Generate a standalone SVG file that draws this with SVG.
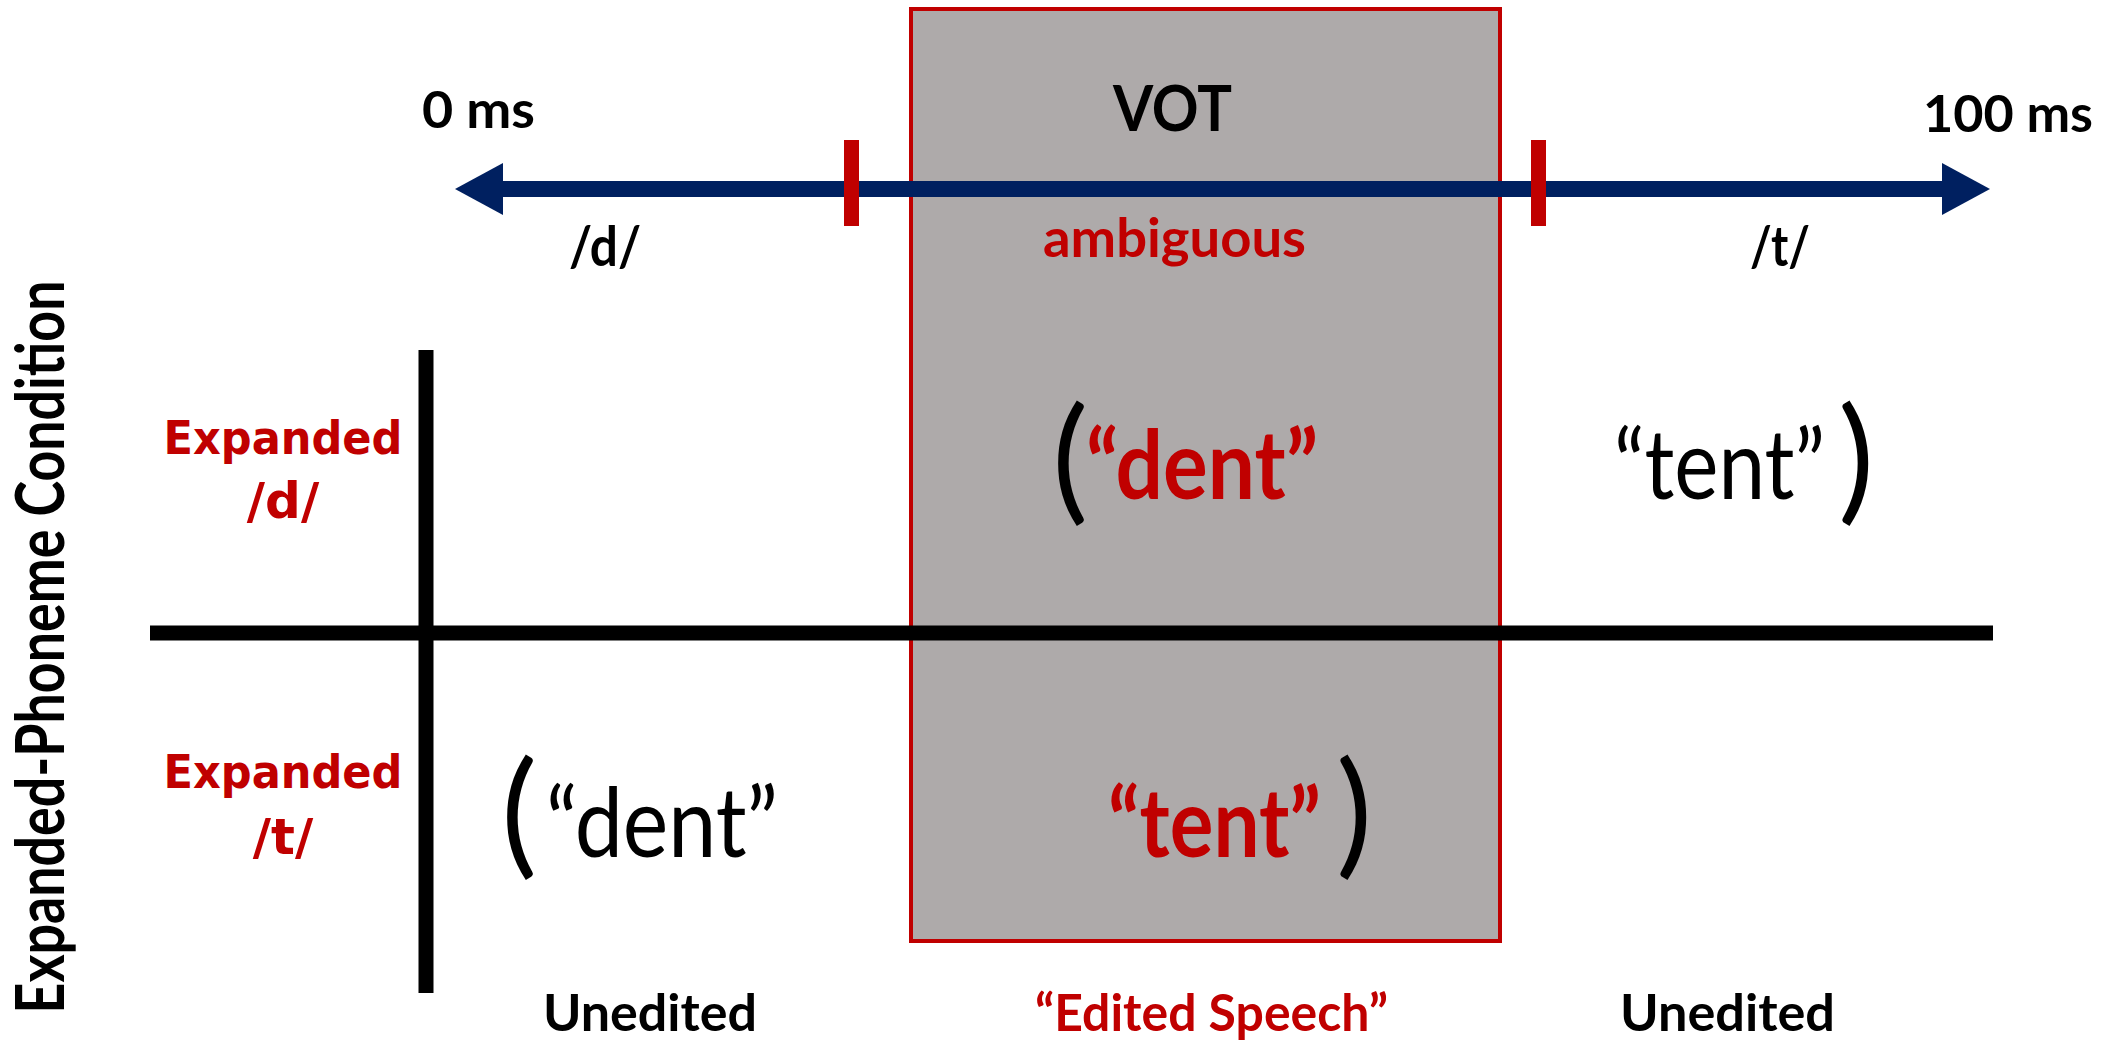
<svg xmlns="http://www.w3.org/2000/svg" width="2113" height="1046" viewBox="0 0 2113 1046">
<style>
.c{font-family:Lato,"Open Sans","Liberation Sans",sans-serif}
.b{font-weight:bold}
.r{fill:#C00000}
.k{fill:#000000}
.v{font-family:"DejaVu Sans",Verdana,sans-serif;font-weight:bold;fill:#C00000}
.p{font-family:Lato,"Open Sans",sans-serif;font-weight:normal;fill:#000}
</style>
<rect width="2113" height="1046" fill="#fff"/>
<g id="edited-region">
<rect x="911" y="9" width="589" height="932" fill="#AEAAAA" stroke="#C00000" stroke-width="4"/>
</g>
<g id="connectors">
<line x1="150" y1="633" x2="1993" y2="633" stroke="#000" stroke-width="15"/>
<line x1="426" y1="350" x2="426" y2="993" stroke="#000" stroke-width="15"/>
<line x1="500" y1="189" x2="1945" y2="189" stroke="#002060" stroke-width="16"/>
<polygon points="455,189 503,163 503,215" fill="#002060"/>
<polygon points="1990,189 1942,163 1942,215" fill="#002060"/>
<rect x="844" y="140" width="15" height="86" fill="#C00000"/>
<rect x="1531" y="140" width="15" height="86" fill="#C00000"/>
</g>
<g id="axis-labels">
<text class="c b k" x="422" y="128" font-size="52" textLength="113" lengthAdjust="spacingAndGlyphs">0 ms</text>
<text class="c b k" x="1923" y="132" font-size="52" textLength="170" lengthAdjust="spacingAndGlyphs">100 ms</text>
<text class="c b k" x="1113" y="131" font-size="64" textLength="119" lengthAdjust="spacingAndGlyphs">VOT</text>
<text class="c b k" x="569" y="266" font-size="56" textLength="72" lengthAdjust="spacingAndGlyphs">/d/</text>
<text class="c b r" x="1043" y="257" font-size="53" textLength="263" lengthAdjust="spacingAndGlyphs">ambiguous</text>
<text class="c b k" x="1750" y="266" font-size="56" textLength="60" lengthAdjust="spacingAndGlyphs">/t/</text>
</g>
<g id="row-labels">
<text class="c b k" transform="translate(64,647) rotate(-90)" text-anchor="middle" font-size="66" textLength="733" lengthAdjust="spacingAndGlyphs">Expanded-Phoneme Condition</text>
<text class="v" x="283" y="454" font-size="46" text-anchor="middle" textLength="239" lengthAdjust="spacingAndGlyphs">Expanded</text>
<text class="v" x="283" y="518" font-size="50" text-anchor="middle">/d/</text>
<text class="v" x="283" y="788" font-size="46" text-anchor="middle" textLength="239" lengthAdjust="spacingAndGlyphs">Expanded</text>
<text class="v" x="283" y="854" font-size="50" text-anchor="middle">/t/</text>
</g>
<g id="top-row">
<text class="p" x="1052" y="506" font-size="136">(</text>
<text class="c b r" x="1086" y="499" font-size="96" textLength="232" lengthAdjust="spacingAndGlyphs">“dent”</text>
<text class="c k" x="1614" y="499" font-size="96" textLength="211" lengthAdjust="spacingAndGlyphs">“tent”</text>
<text class="p" x="1838" y="506" font-size="136">)</text>
</g>
<g id="bottom-row">
<text class="p" x="501" y="860" font-size="136">(</text>
<text class="c k" x="546" y="857" font-size="96" textLength="232" lengthAdjust="spacingAndGlyphs">“dent”</text>
<text class="c b r" x="1108" y="857" font-size="96" textLength="213" lengthAdjust="spacingAndGlyphs">“tent”</text>
<text class="p" x="1336" y="860" font-size="136">)</text>
</g>
<g id="column-labels">
<text class="c b k" x="543" y="1031" font-size="52" textLength="214" lengthAdjust="spacingAndGlyphs">Unedited</text>
<text class="c b r" x="1035" y="1031" font-size="52" textLength="353" lengthAdjust="spacingAndGlyphs">“Edited Speech”</text>
<text class="c b k" x="1620" y="1031" font-size="52" textLength="215" lengthAdjust="spacingAndGlyphs">Unedited</text>
</g>
</svg>
